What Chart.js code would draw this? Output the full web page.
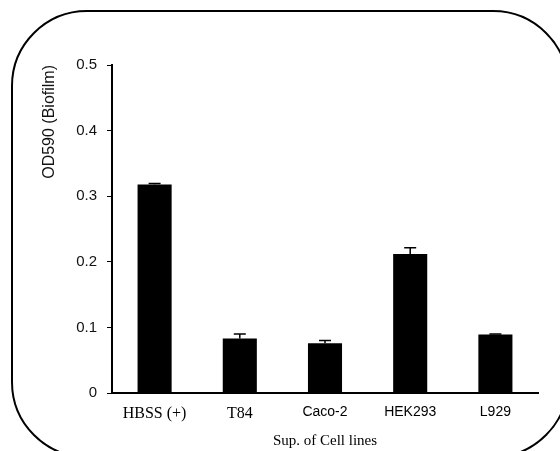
<!DOCTYPE html>
<html>
<head>
<meta charset="utf-8">
<script src="https://cdn.jsdelivr.net/npm/chart.js@4"></script>
<style>
  html, body { margin: 0; padding: 0; background: #fff; }
  #wrap { width: 560px; height: 451px; }
</style>
</head>
<body>
<div id="wrap"><canvas id="myChart"></canvas></div>
<script>
// 데이터
const cellLines = ['HBSS (+)', 'T84', 'Caco-2', 'HEK293', 'L929'];
const odValues = [0.318, 0.083, 0.076, 0.212, 0.089];
const odErrors = [0.0015, 0.007, 0.004, 0.0095, 0.001];
const yTicks = [0, 0.1, 0.2, 0.3, 0.4, 0.5];

// 앞의 두 라벨은 명조체, 나머지는 고딕체
const serifLabels = [0, 1];

// 둥근 테두리 + 오차막대
const extras = {
  id: 'extras',
  afterDatasetsDraw(chart) {
    const ctx = chart.ctx;
    const x = chart.scales.x, y = chart.scales.y;
    ctx.save();
    ctx.strokeStyle = '#000';
    ctx.lineWidth = 1.5;
    odValues.forEach((v, i) => {
      const px = x.getPixelForValue(i);
      const top = y.getPixelForValue(v + odErrors[i]);
      const base = y.getPixelForValue(v);
      ctx.beginPath();
      ctx.moveTo(px, base);
      ctx.lineTo(px, top);
      ctx.moveTo(px - 6, top);
      ctx.lineTo(px + 6, top);
      ctx.stroke();
    });
    // 테두리
    ctx.lineWidth = 2;
    ctx.beginPath();
    ctx.roundRect(12, 11, 556, 446, 75);
    ctx.stroke();
    ctx.restore();
  }
};

new Chart(document.getElementById('myChart'), {
  type: 'bar',
  data: {
    labels: cellLines,
    datasets: [{
      data: odValues,
      backgroundColor: '#000',
      borderWidth: 0,
      barPercentage: 0.4,
      categoryPercentage: 1
    }]
  },
  options: {
    responsive: true,
    maintainAspectRatio: false,
    animation: false,
    layout: { padding: { left: 0, top: 65, right: 22, bottom: 0 } },
    plugins: { legend: { display: false }, tooltip: { enabled: false } },
    scales: {
      x: {
        afterFit: (s) => { s.height = 58; },
        grid: { display: false, drawTicks: false },
        border: { color: '#000', width: 2 },
        ticks: {
          color: '#000',
          padding: 11,
          maxRotation: 0,
          font: (c) => serifLabels.includes(c.index)
            ? { family: 'Liberation Serif', size: 16 }
            : { family: 'Liberation Sans', size: 14 }
        },
        title: {
          display: true,
          text: 'Sup. of Cell lines',
          color: '#000',
          font: { family: 'Liberation Serif', size: 15 },
          padding: { top: 2, bottom: 1 }
        }
      },
      y: {
        min: 0,
        max: 0.5,
        afterFit: (s) => { s.width = 112; },
        afterBuildTicks: (s) => { s.ticks = yTicks.map(v => ({ value: v })); },
        grid: { drawOnChartArea: false, tickLength: 5, color: '#000', tickColor: '#000' },
        border: { color: '#000', width: 2 },
        ticks: {
          color: '#111',
          padding: 10,
          font: { family: 'Liberation Sans', size: 15 },
          callback: (v) => v === 0 ? '0' : v.toFixed(1)
        },
        title: {
          display: true,
          text: 'OD590 (Biofilm)',
          align: 'end',
          color: '#111',
          font: { family: 'Liberation Sans', size: 16 },
          padding: { top: 40 }
        }
      }
    }
  },
  plugins: [extras]
});
</script>
</body>
</html>
